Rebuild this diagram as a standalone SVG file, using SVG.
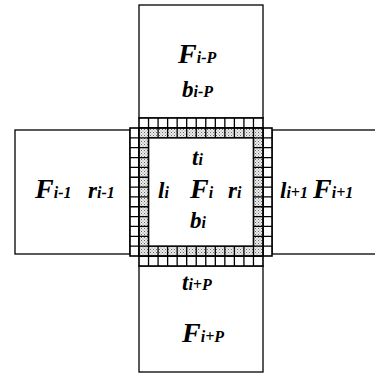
<svg xmlns="http://www.w3.org/2000/svg" width="375" height="382" viewBox="0 0 375 382" font-family="'Liberation Serif', 'Times New Roman', serif">
<defs>
<pattern id="hatch" width="3" height="3" patternUnits="userSpaceOnUse">
<rect width="3" height="3" fill="#ececec"/>
<rect x="0" y="0" width="1" height="1" fill="#666"/>
<rect x="1.5" y="1.5" width="1" height="1" fill="#888"/>
</pattern>
</defs>
<style>
.box{fill:#fff;stroke:#000;stroke-width:1.3}
.cell{fill:#fff;stroke:#000;stroke-width:1.6}
.hatch{fill:url(#hatch);stroke:#000;stroke-width:1.8}
.div{fill:none;stroke:#000;stroke-width:1.3}
text{font-family:'Liberation Serif','Times New Roman',serif;font-weight:700;font-style:italic;fill:#000}
.big{font-size:28px}
.mid{font-size:23px}
.sub{font-size:16px}
</style>
<rect width="375" height="382" fill="#fff"/>
<g id="node-top"><rect class="box" x="139" y="5" width="124" height="113"/>
<text class="big" x="178" y="63">F<tspan class="sub">i-P</tspan></text>
<text class="mid" x="182" y="97">b<tspan class="sub">i-P</tspan></text></g>
<g id="node-left"><rect class="box" x="15" y="130" width="115" height="124"/>
<text class="big" x="35" y="198">F<tspan class="sub">i-1</tspan></text>
<text class="mid" x="88" y="198">r<tspan class="sub">i-1</tspan></text></g>
<g id="node-right"><rect class="box" x="272" y="130" width="105" height="124"/>
<text class="mid" x="280" y="198">l<tspan class="sub">i+1</tspan></text>
<text class="big" x="313" y="198">F<tspan class="sub">i+1</tspan></text></g>
<g id="node-bottom"><rect class="box" x="139" y="266" width="124" height="106"/>
<text class="mid" x="182" y="290">t<tspan class="sub">i+P</tspan></text>
<text class="big" x="182" y="342">F<tspan class="sub">i+P</tspan></text></g>
<g id="node-center">
<rect class="cell" x="139" y="118" width="124" height="10"/>
<rect class="cell" x="139" y="256" width="124" height="10"/>
<rect class="cell" x="130" y="128" width="9" height="128"/>
<rect class="cell" x="263" y="128" width="9" height="128"/>
<rect class="hatch" x="139" y="128" width="124" height="128"/>
<rect class="cell" x="148.54" y="137.85" width="104.92" height="108.3"/>
<path class="div" d="M148.54 118V137.85M158.08 118V137.85M167.62 118V137.85M177.15 118V137.85M186.69 118V137.85M196.23 118V137.85M205.77 118V137.85M215.31 118V137.85M224.85 118V137.85M234.38 118V137.85M243.92 118V137.85M253.46 118V137.85
M148.54 246.15V266M158.08 246.15V266M167.62 246.15V266M177.15 246.15V266M186.69 246.15V266M196.23 246.15V266M205.77 246.15V266M215.31 246.15V266M224.85 246.15V266M234.38 246.15V266M243.92 246.15V266M253.46 246.15V266
M130 137.85H148.54M130 147.69H148.54M130 157.54H148.54M130 167.38H148.54M130 177.23H148.54M130 187.08H148.54M130 196.92H148.54M130 206.77H148.54M130 216.62H148.54M130 226.46H148.54M130 236.31H148.54M130 246.15H148.54
M253.46 137.85H272M253.46 147.69H272M253.46 157.54H272M253.46 167.38H272M253.46 177.23H272M253.46 187.08H272M253.46 196.92H272M253.46 206.77H272M253.46 216.62H272M253.46 226.46H272M253.46 236.31H272M253.46 246.15H272"/>
<text class="mid" x="192" y="165">t<tspan class="sub">i</tspan></text>
<text class="mid" x="158" y="198">l<tspan class="sub">i</tspan></text>
<text class="big" x="190" y="198">F<tspan class="sub">i</tspan></text>
<text class="mid" x="228" y="198">r<tspan class="sub">i</tspan></text>
<text class="mid" x="190" y="228">b<tspan class="sub">i</tspan></text>
</g>
<g id="connectors"/>
</svg>
